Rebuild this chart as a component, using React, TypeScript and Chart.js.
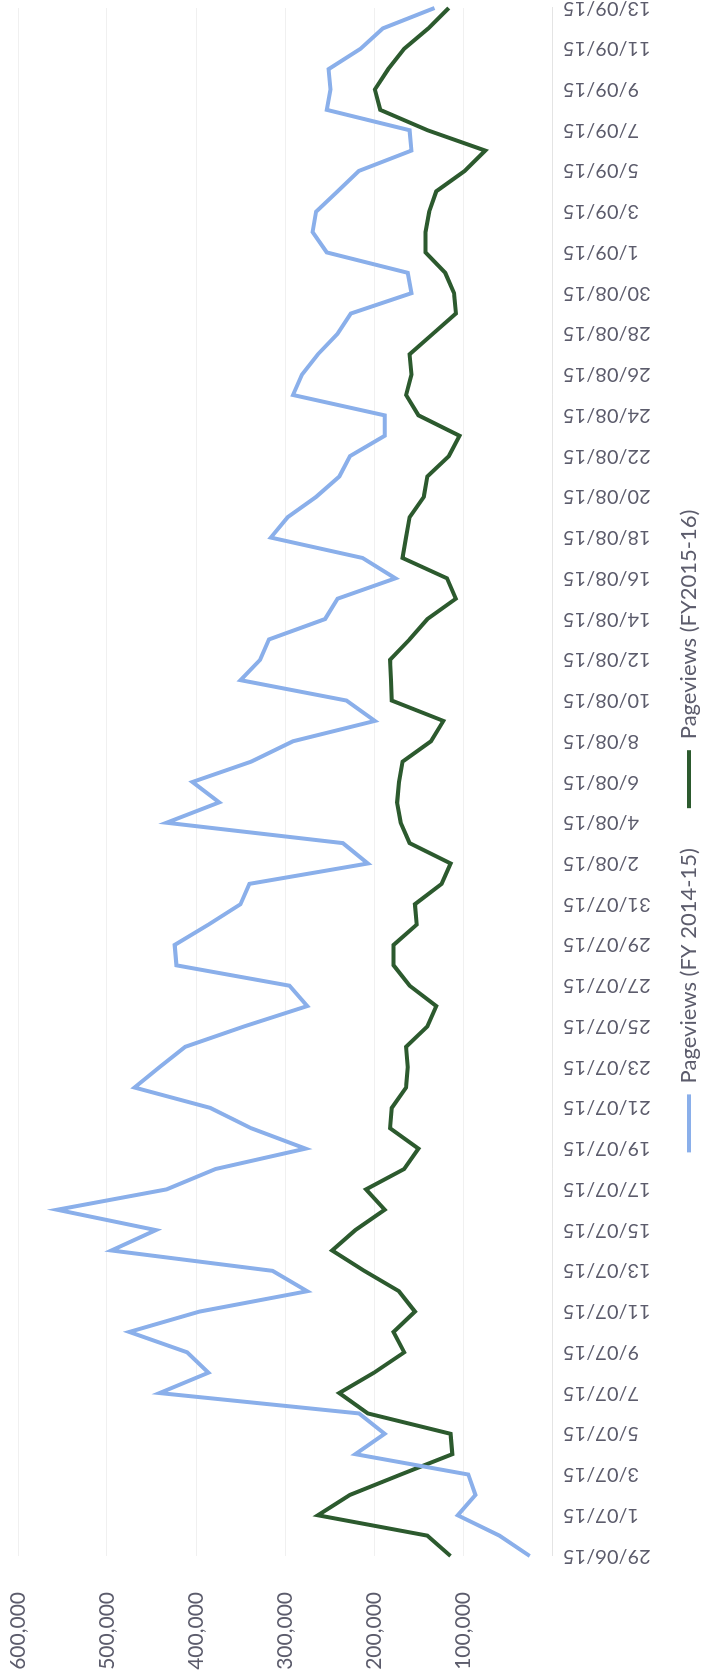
import React, { useEffect, useRef } from 'react';
import { Chart, registerables } from 'chart.js';

Chart.register(...registerables);

const dates = [
  '29/06/15', '30/06/15',
  '1/07/15', '2/07/15', '3/07/15', '4/07/15', '5/07/15', '6/07/15', '7/07/15', '8/07/15', '9/07/15', '10/07/15',
  '11/07/15', '12/07/15', '13/07/15', '14/07/15', '15/07/15', '16/07/15', '17/07/15', '18/07/15', '19/07/15', '20/07/15',
  '21/07/15', '22/07/15', '23/07/15', '24/07/15', '25/07/15', '26/07/15', '27/07/15', '28/07/15', '29/07/15', '30/07/15', '31/07/15',
  '1/08/15', '2/08/15', '3/08/15', '4/08/15', '5/08/15', '6/08/15', '7/08/15', '8/08/15', '9/08/15', '10/08/15',
  '11/08/15', '12/08/15', '13/08/15', '14/08/15', '15/08/15', '16/08/15', '17/08/15', '18/08/15', '19/08/15', '20/08/15',
  '21/08/15', '22/08/15', '23/08/15', '24/08/15', '25/08/15', '26/08/15', '27/08/15', '28/08/15', '29/08/15', '30/08/15', '31/08/15',
  '1/09/15', '2/09/15', '3/09/15', '4/09/15', '5/09/15', '6/09/15', '7/09/15', '8/09/15', '9/09/15', '10/09/15',
  '11/09/15', '12/09/15', '13/09/15',
];

const fy1415 = [
  25000, 59000, 106000, 86000, 94000, 221000, 188000, 217000, 441000, 386000,
  410000, 475000, 396000, 275000, 314000, 495000, 445000, 556000, 433000, 378000,
  277000, 338000, 384000, 469000, 441000, 412000, 346000, 275000, 295000, 422000,
  424000, 386000, 350000, 340000, 207000, 235000, 433000, 374000, 404000, 338000,
  291000, 199000, 231000, 350000, 328000, 318000, 255000, 241000, 176000, 213000,
  316000, 297000, 265000, 239000, 227000, 188000, 188000, 291000, 281000, 263000,
  241000, 226000, 158000, 162000, 253000, 269000, 265000, 241000, 217000, 158000,
  160000, 253000, 249000, 251000, 215000, 190000, 132000,
];

const fy1516 = [
  114000, 140000, 263000, 227000, 170000, 112000, 114000, 207000, 239000, 200000,
  166000, 178000, 154000, 172000, 211000, 247000, 221000, 188000, 209000, 166000,
  150000, 182000, 180000, 164000, 162000, 164000, 140000, 130000, 160000, 178000,
  178000, 152000, 154000, 124000, 114000, 160000, 170000, 174000, 172000, 168000,
  136000, 122000, 180000, 181000, 182000, 160000, 140000, 108000, 118000, 168000,
  164000, 160000, 144000, 140000, 116000, 104000, 150000, 164000, 158000, 160000,
  134000, 108000, 110000, 120000, 142000, 142000, 138000, 130000, 98000, 75000,
  140000, 193000, 199000, 184000, 166000, 139000, 116000,
];

const seriesNames = ['Pageviews (FY 2014-15)', 'Pageviews (FY2015-16)'];

const W = 1676;
const H = 702;
const PAD_LEFT = 22;
const BLUE = '#8AAFEA';
const GREEN = '#2C5A2E';
const TEXT = '#5c5c6c';
const FONT = 'Lato';

export default function App() {
  const ref = useRef<HTMLCanvasElement>(null);

  useEffect(() => {
    if (!ref.current) return;
    const chart = new Chart(ref.current, {
      type: 'line',
      data: {
        labels: dates,
        datasets: [
          {
            label: seriesNames[0],
            data: fy1415,
            borderColor: BLUE,
            backgroundColor: BLUE,
            borderWidth: 4,
            pointRadius: 0,
            tension: 0,
          },
          {
            label: seriesNames[1],
            data: fy1516,
            borderColor: GREEN,
            backgroundColor: GREEN,
            borderWidth: 4,
            pointRadius: 0,
            tension: 0,
          },
        ],
      },
      options: {
        responsive: false,
        animation: false,
        devicePixelRatio: 1,
        layout: { padding: { top: 18, right: 8, left: PAD_LEFT, bottom: 0 } },
        plugins: {
          tooltip: { enabled: false },
          legend: {
            position: 'bottom',
            maxHeight: 64,
            labels: {
              font: { family: FONT, size: 22 },
              color: TEXT,
              usePointStyle: true,
              pointStyle: 'line',
              pointStyleWidth: 58,
              padding: 40,
            },
          },
        },
        scales: {
          x: {
            grid: { display: false, drawTicks: false },
            border: { display: true, color: '#e4e4e4', width: 1 },
            ticks: {
              autoSkip: false,
              minRotation: 90,
              maxRotation: 90,
              padding: 11,
              color: TEXT,
              font: { family: FONT, size: 20 },
              callback: (_v: any, i: number) => (i % 2 === 0 ? dates[i] : ''),
            },
            afterFit: (s: any) => {
              s.height = 86;
              s.paddingLeft = 0;
              s.paddingRight = 0;
              s._computeLabelArea = () => undefined;
            },
          },
          y: {
            min: 0,
            max: 600000,
            grid: { color: '#f0f0f0', drawTicks: false, lineWidth: 1 },
            border: { display: false },
            ticks: {
              stepSize: 100000,
              padding: 36,
              color: TEXT,
              font: { family: FONT, size: 21 },
              callback: (v: any) => (Number(v) === 0 ? '' : Number(v).toLocaleString('en-US')),
            },
            afterFit: (s: any) => {
              s.width = 120 - PAD_LEFT;
              s.paddingTop = 0;
              s.paddingBottom = 0;
              s._computeLabelArea = () => undefined;
            },
          },
        },
      },
    });
    return () => chart.destroy();
  }, []);

  return (
    <div
      style={{
        position: 'absolute',
        left: 0,
        top: 0,
        width: W,
        height: H,
        transformOrigin: '0 0',
        transform: `translateY(${W}px) rotate(-90deg)`,
        background: '#ffffff',
      }}
    >
      <canvas ref={ref} width={W} height={H} style={{ display: 'block', width: W, height: H }} />
    </div>
  );
}
